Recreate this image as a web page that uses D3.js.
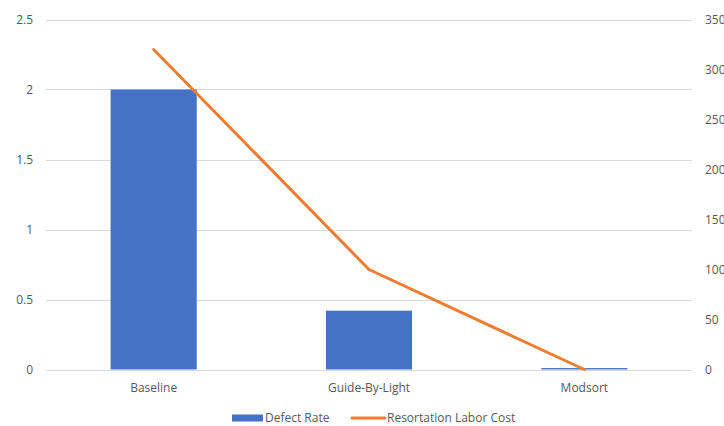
<!DOCTYPE html>
<html>
<head>
<meta charset="utf-8">
<script src="https://cdn.jsdelivr.net/npm/d3@7"></script>
<style>
  html, body { margin: 0; padding: 0; background: #fff; }
  svg text { font-family: "Open Sans", "Noto Sans", sans-serif; fill: #595959; }
</style>
</head>
<body>
<svg id="chart" width="724" height="426"></svg>
<script>
// Categories and series
const categories = ["Baseline", "Guide-By-Light", "Modsort"];
const defectRate = [2.0, 0.42, 0.01];
const laborCost = [320, 100, 0];
const leftTicks = [0, 0.5, 1, 1.5, 2, 2.5];
const rightTicks = [0, 50, 100, 150, 200, 250, 300, 350];
const seriesNames = ["Defect Rate", "Resortation Labor Cost"];

const blue = "#4472C4", orange = "#ED7D31", grid = "#D9D9D9";
const svg = d3.select("#chart");
const plot = { left: 46, right: 692, top: 19.5, bottom: 369.5 };

const yL = d3.scaleLinear().domain([0, 2.5]).range([plot.bottom, plot.top]);
const yR = d3.scaleLinear().domain([0, 350]).range([plot.bottom, plot.top]);
const band = d3.scaleBand().domain(categories).range([plot.left, plot.right]);

// Gridlines
svg.append("g").selectAll("line").data(leftTicks).join("line")
  .attr("x1", plot.left).attr("x2", plot.right)
  .attr("y1", d => Math.round(yL(d)) + 0.5).attr("y2", d => Math.round(yL(d)) + 0.5)
  .attr("stroke", grid).attr("stroke-width", 1);

// Left axis
const leftAxis = svg.append("g").attr("transform", `translate(${plot.left},0)`)
  .call(d3.axisLeft(yL).tickValues(leftTicks).tickSize(0).tickPadding(13).tickFormat(d3.format("")));
leftAxis.select(".domain").remove();
leftAxis.selectAll("text").style("font-size", "12px");

// Right axis
const rightAxis = svg.append("g").attr("transform", `translate(${plot.right},0)`)
  .call(d3.axisRight(yR).tickValues(rightTicks).tickSize(0).tickPadding(13));
rightAxis.select(".domain").remove();
rightAxis.selectAll("text").style("font-size", "12px");

// Bars
svg.append("g").selectAll("rect").data(categories).join("rect")
  .attr("x", d => band(d) + band.bandwidth() * 0.3)
  .attr("width", band.bandwidth() * 0.4)
  .attr("y", (d, i) => yL(defectRate[i]))
  .attr("height", (d, i) => yL(0) - yL(defectRate[i]))
  .attr("fill", blue);

// Category axis
const bottomAxis = svg.append("g").attr("transform", `translate(0,${plot.bottom})`)
  .call(d3.axisBottom(band).tickSize(0).tickPadding(14));
bottomAxis.select(".domain").remove();
bottomAxis.selectAll("text").style("font-size", "12px");

// Line series
const line = d3.line()
  .x((d, i) => band(categories[i]) + band.bandwidth() / 2)
  .y(d => yR(d));
svg.append("path").datum(laborCost)
  .attr("d", line)
  .attr("fill", "none").attr("stroke", orange).attr("stroke-width", 3)
  .attr("stroke-linejoin", "round").attr("stroke-linecap", "round");

// Legend
const legend = svg.append("g");
const ly = 418;
legend.append("rect").attr("x", 232).attr("y", ly - 3.5).attr("width", 31).attr("height", 7).attr("fill", blue);
legend.append("text").attr("x", 265).attr("y", ly).attr("dy", "0.35em").style("font-size", "12px").text(seriesNames[0]);
legend.append("line").attr("x1", 352).attr("x2", 385).attr("y1", ly).attr("y2", ly)
  .attr("stroke", orange).attr("stroke-width", 3).attr("stroke-linecap", "round");
legend.append("text").attr("x", 387).attr("y", ly).attr("dy", "0.35em").style("font-size", "12px").text(seriesNames[1]);
</script>
</body>
</html>
